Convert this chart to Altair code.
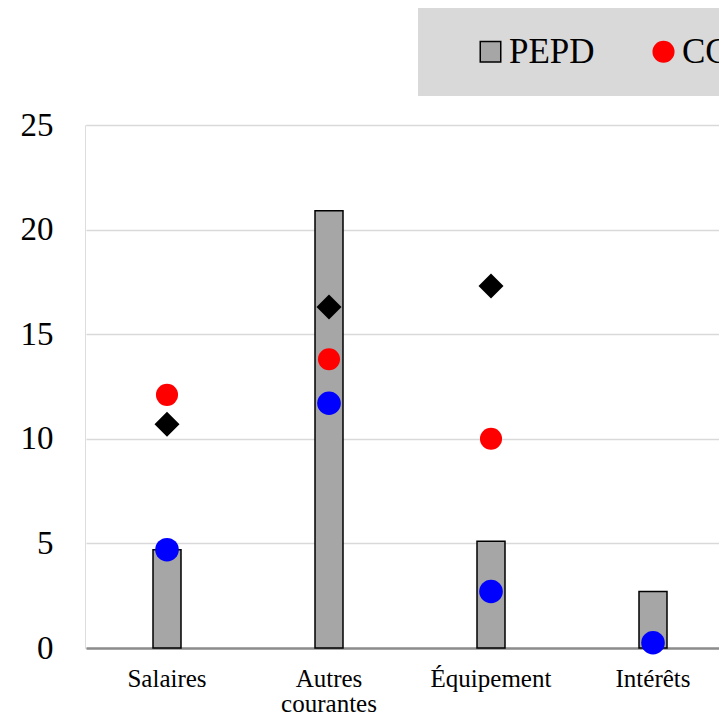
import altair as alt
import pandas as pd

categories = ["Salaires", "Autres courantes", "Équipement", "Intérêts"]
series = ["PEPD", "CCC", "Exécution", "Moyenne"]
pepd = [4.7, 20.9, 5.1, 2.7]
ccc = [12.1, 13.8, 10.0, None]
execution = [4.7, 11.7, 2.7, 0.25]
moyenne = [10.7, 16.3, 17.3, None]

colors = ["#a6a6a6", "#ff0000", "#0000ff", "#000000"]
strokes = ["black", "transparent", "transparent", "transparent"]
shapes = ["square", "circle", "circle", "diamond"]
sizes = [420, 625, 625, 560]

bars_df = pd.DataFrame({"cat": categories, "value": pepd, "series": "PEPD"})
pts = []
for name, vals in [("CCC", ccc), ("Moyenne", moyenne), ("Exécution", execution)]:
    for c, v in zip(categories, vals):
        if v is not None:
            pts.append({"cat": c, "value": v, "series": name})
pts_df = pd.DataFrame(pts)

FONT = "Liberation Serif"

x_enc = alt.X(
    "cat:N",
    sort=categories,
    scale=alt.Scale(range=[1, 649], paddingInner=0, paddingOuter=0),
    axis=alt.Axis(
        title=None,
        ticks=False,
        tickSize=0,
        domainColor="#8c8c8c",
        domainWidth=2.5,
        labelFont=FONT,
        labelFontSize=25,
        labelColor="black",
        labelPadding=18,
        labelAngle=0,
        labelLineHeight=25,
        labelExpr="datum.label == 'Autres courantes' ? ['Autres', 'courantes'] : datum.label",
        grid=False,
    ),
)
y_enc = alt.Y(
    "value:Q",
    scale=alt.Scale(domain=[0, 25], nice=False),
    axis=alt.Axis(
        title=None,
        values=[0, 5, 10, 15, 20, 25],
        domain=False,
        ticks=False,
        labelFont=FONT,
        labelFontSize=33,
        labelColor="black",
        labelPadding=32,
        gridColor="#d9d9d9",
        gridWidth=1.5,
    ),
)

legend = alt.Legend(
    orient="none",
    legendX=333,
    legendY=-117,
    direction="horizontal",
    columns=4,
    fillColor="#d9d9d9",
    padding=26,
    labelFont=FONT,
    labelFontSize=35,
    labelColor="black",
    symbolSize=420,
    labelOffset=1,
    columnPadding=51,
    title=" ",
    titleOrient="left",
    titlePadding=29,
    titleFontSize=1,
    symbolOpacity=1,
    symbolStrokeWidth=1.5,
)

color_enc = alt.Color(
    "series:N", scale=alt.Scale(domain=series, range=colors), legend=legend
)
shape_enc = alt.Shape(
    "series:N", scale=alt.Scale(domain=series, range=shapes), legend=legend
)
stroke_enc = alt.Stroke(
    "series:N", scale=alt.Scale(domain=series, range=strokes), legend=legend
)

bars = (
    alt.Chart(bars_df)
    .mark_bar(size=28, strokeWidth=1.5)
    .encode(x=x_enc, y=y_enc, color=color_enc, stroke=stroke_enc)
)

points = (
    alt.Chart(pts_df)
    .mark_point(filled=True, opacity=1)
    .encode(
        x=x_enc,
        y=y_enc,
        color=color_enc,
        shape=shape_enc,
        size=alt.Size(
            "series:N",
            scale=alt.Scale(domain=series, range=sizes),
            legend=None,
        ),
    )
)

chart = (
    alt.layer(bars, points)
    .properties(
        width=634,
        height=523,
        autosize=alt.AutoSizeParams(type="none"),
        padding={"left": 77, "top": 117, "right": 0, "bottom": 67},
    )
    .configure_view(stroke=None)
    .configure(background="white")
)

chart.save("out.html", embed_options={"renderer": "svg", "actions": False})
